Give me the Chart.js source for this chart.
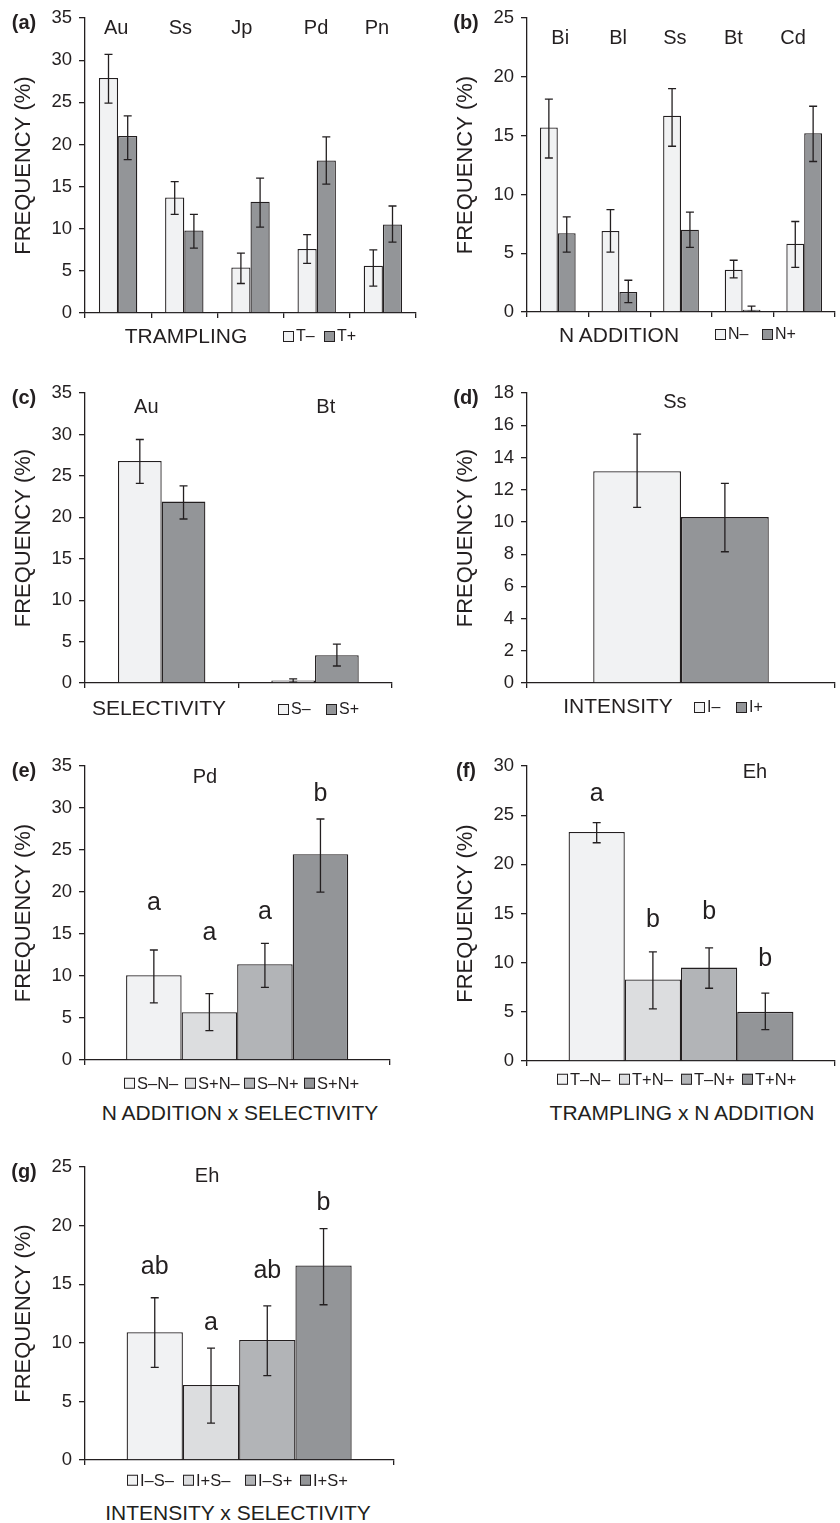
<!DOCTYPE html>
<html>
<head>
<meta charset="utf-8">
<script src="https://cdn.jsdelivr.net/npm/chart.js@4.4.1/dist/chart.umd.min.js"></script>
<style>
  body { margin: 0; background: #fff; width: 840px; height: 1523px; position: relative; overflow: hidden;
         font-family: "Liberation Sans", Arial, sans-serif; color: #231f20; }
  canvas { position: absolute; }
  .t { position: absolute; white-space: nowrap; line-height: 1; transform: translate(-50%, -50%); }
  .tag { font-weight: bold; font-size: 20px; }
  .xt { font-size: 21px; }
  .lg { position: absolute; white-space: nowrap; line-height: 1; transform: translateY(-50%); font-size: 16px; display: flex; align-items: center; }
  .lg i { display: inline-block; width: 9px; height: 9px; border: 1px solid #231f20; margin-right: 2px; }
  .lg.big { font-size: 16.5px; }
</style>
</head>
<body>
<script>
const ink = '#231f20';
const light = '#f1f2f3';
const dark = '#939598';
const shades = ['#f1f2f3', '#dcdddf', '#b2b4b7', '#939598'];

// (a) trampling
const trampSpecies = ['Au', 'Ss', 'Jp', 'Pd', 'Pn'];
const trampMinus   = [27.9, 13.7, 5.4, 7.6, 5.6];
const trampMinusHi = [30.7, 15.6, 7.1, 9.3, 7.5];
const trampMinusLo = [24.9, 11.7, 3.5, 5.9, 3.2];
const trampPlus    = [21.0, 9.8, 13.2, 18.1, 10.5];
const trampPlusHi  = [23.4, 11.7, 16.0, 20.9, 12.7];
const trampPlusLo  = [18.2, 7.7, 10.2, 15.3, 8.4];
const trampTicks   = [0, 35, 5];

// (b) N addition
const nSpecies  = ['Bi', 'Bl', 'Ss', 'Bt', 'Cd'];
const nMinus    = [15.7, 6.9, 16.7, 3.6, 5.8];
const nMinusHi  = [18.1, 8.7, 19.0, 4.4, 7.7];
const nMinusLo  = [13.1, 5.1, 14.1, 2.9, 3.8];
const nPlus     = [6.7, 1.7, 7.0, 0.2, 15.2];
const nPlusHi   = [8.1, 2.7, 8.5, 0.5, 17.5];
const nPlusLo   = [5.1, 0.8, 5.5, 0.05, 12.8];
const nTicks    = [0, 25, 5];

// (c) selectivity
const selSpecies = ['Au', 'Bt'];
const selMinus   = [26.8, 0.3];
const selMinusHi = [29.4, 0.5];
const selMinusLo = [24.1, 0.1];
const selPlus    = [21.9, 3.35];
const selPlusHi  = [23.8, 4.7];
const selPlusLo  = [19.8, 2.05];
const selTicks   = [0, 35, 5];

// (d) intensity
const intSpecies = ['Ss'];
const intMinus   = [13.15];
const intMinusHi = [15.45];
const intMinusLo = [10.9];
const intPlus    = [10.3];
const intPlusHi  = [12.4];
const intPlusLo  = [8.15];
const intTicks   = [0, 18, 2];

// (e) N addition x selectivity, Pd
const nsGroups  = ['S–N–', 'S+N–', 'S–N+', 'S+N+'];
const nsValues  = [10.1, 5.7, 11.4, 24.5];
const nsHi      = [13.1, 7.9, 13.9, 28.7];
const nsLo      = [6.8, 3.5, 8.65, 20.0];
const nsLetters = ['a', 'a', 'a', 'b'];
const nsLetterY = [18.7, 15.1, 17.6, 31.7];
const nsTicks   = [0, 35, 5];

// (f) trampling x N addition, Eh
const tnGroups  = ['T–N–', 'T+N–', 'T–N+', 'T+N+'];
const tnValues  = [23.3, 8.3, 9.5, 5.0];
const tnHi      = [24.25, 11.1, 11.5, 6.9];
const tnLo      = [22.2, 5.3, 7.4, 3.2];
const tnLetters = ['a', 'b', 'b', 'b'];
const tnLetterY = [27.2, 14.3, 15.1, 10.4];
const tnTicks   = [0, 30, 5];

// (g) intensity x selectivity, Eh
const isGroups  = ['I–S–', 'I+S–', 'I–S+', 'I+S+'];
const isValues  = [10.9, 6.4, 10.25, 16.6];
const isHi      = [13.85, 9.55, 13.15, 19.75];
const isLo      = [7.9, 3.15, 7.2, 13.25];
const isLetters = ['ab', 'a', 'ab', 'b'];
const isLetterY = [16.5, 11.7, 16.1, 21.9];
const isTicks   = [0, 25, 5];

Chart.defaults.font.family = '"Liberation Sans", Arial, sans-serif';
Chart.defaults.color = ink;

// error bars, significance letters and species names
const extras = {
  id: 'extras',
  afterDatasetsDraw(chart, args, opts) {
    const { ctx, scales: { x, y } } = chart;
    ctx.save();
    ctx.strokeStyle = ink;
    ctx.fillStyle = ink;
    ctx.lineWidth = 1.3;
    ctx.textAlign = 'center';
    ctx.textBaseline = 'middle';
    chart.data.datasets.forEach((ds, i) => {
      chart.getDatasetMeta(i).data.forEach((bar, j) => {
        const top = y.getPixelForValue(ds.errHi[j]);
        const bot = y.getPixelForValue(ds.errLo[j]);
        ctx.beginPath();
        ctx.moveTo(bar.x, top); ctx.lineTo(bar.x, bot);
        ctx.moveTo(bar.x - 4, top); ctx.lineTo(bar.x + 4, top);
        ctx.moveTo(bar.x - 4, bot); ctx.lineTo(bar.x + 4, bot);
        ctx.stroke();
        if (ds.letters) {
          ctx.font = '25px "Liberation Sans", Arial';
          ctx.fillText(ds.letters[j], bar.x, y.getPixelForValue(ds.letterY[j]));
        }
      });
    });
    ctx.font = '20px "Liberation Sans", Arial';
    (opts.notes || []).forEach(n => {
      ctx.fillText(n.text, x.getPixelForValue(n.at), y.getPixelForValue(n.y));
    });
    ctx.restore();
  }
};

function bar(label, data, hi, lo, color, pct) {
  return { label, data, errHi: hi, errLo: lo, backgroundColor: color, borderColor: ink,
           borderWidth: 1.3, categoryPercentage: pct, barPercentage: 1 };
}

// one dataset per treatment combination, all in a single category
function combo(groups, values, hi, lo, letters, letterY) {
  return groups.map((g, i) => Object.assign(
    bar(g, [values[i]], [hi[i]], [lo[i]], shades[i], 0.73),
    { letters: [letters[i]], letterY: [letterY[i]] }));
}

function text(cls, str, x, y) {
  const d = document.createElement('div');
  d.className = 't ' + cls;
  d.textContent = str;
  d.style.left = x + 'px';
  d.style.top = y + 'px';
  document.body.appendChild(d);
}

function makePanel(p) {
  const W = p.x0 === 0 ? 420 : 398;
  const H = p.bottom - p.top + 38;
  const cv = document.createElement('canvas');
  cv.width = W; cv.height = H;
  cv.style.left = p.x0 + 'px';
  cv.style.top = (p.top - 18) + 'px';
  document.body.appendChild(cv);

  new Chart(cv, {
    type: 'bar',
    data: { labels: p.labels, datasets: p.datasets },
    options: {
      responsive: false,
      animation: false,
      devicePixelRatio: 1,
      layout: { padding: { left: 0, top: 18, bottom: 10, right: p.x0 + W - p.right } },
      plugins: { legend: { display: false }, tooltip: { enabled: false }, extras: { notes: p.notes } },
      scales: {
        x: {
          offset: true,
          grid: { offset: true, drawOnChartArea: false, tickLength: 5, color: ink, lineWidth: 1.3 },
          border: { color: ink, width: 1.3 },
          ticks: { display: false },
          afterFit: s => { s.height = 10; }
        },
        y: {
          min: p.ticks[0], max: p.ticks[1],
          ticks: { stepSize: p.ticks[2], font: { size: 18.5 }, color: ink, padding: 7 },
          grid: { drawOnChartArea: false, tickLength: 6, color: ink, lineWidth: 1.3 },
          border: { color: ink, width: 1.3 },
          title: { display: true, text: 'FREQUENCY (%)', font: { size: 22 }, color: ink, padding: { top: 10.8, bottom: 0 } },
          afterFit: s => { s.width = 85; }
        }
      }
    },
    plugins: [extras]
  });

  text('tag', p.tag, p.tagX, p.top + 4);
  text('xt', p.xTitle, p.xTitleAt[0], p.xTitleAt[1]);
  p.datasets.forEach((ds, i) => {
    const d = document.createElement('div');
    d.className = 'lg' + (p.datasets.length > 2 ? ' big' : '');
    d.style.left = p.legendX[i] + 'px';
    d.style.top = p.legendY + 'px';
    const box = document.createElement('i');
    box.style.background = ds.backgroundColor;
    d.appendChild(box);
    d.appendChild(document.createTextNode(ds.label));
    document.body.appendChild(d);
  });
}

const notes = (names, at, y) => names.map((n, i) => ({ text: n, at: at[i], y }));

makePanel({
  tag: '(a)', tagX: 24, x0: 0, top: 18, bottom: 313, right: 416, ticks: trampTicks,
  labels: trampSpecies,
  datasets: [bar('T–', trampMinus, trampMinusHi, trampMinusLo, light, 0.58),
             bar('T+', trampPlus, trampPlusHi, trampPlusLo, dark, 0.58)],
  notes: notes(trampSpecies, [-0.03, 0.94, 1.87, 2.99, 3.91], 33.8),
  xTitle: 'TRAMPLING', xTitleAt: [186, 335], legendX: [283, 324], legendY: 336
});

makePanel({
  tag: '(b)', tagX: 466, x0: 442, top: 18.3, bottom: 312.7, right: 835, ticks: nTicks,
  labels: nSpecies,
  datasets: [bar('N–', nMinus, nMinusHi, nMinusLo, light, 0.58),
             bar('N+', nPlus, nPlusHi, nPlusLo, dark, 0.58)],
  notes: notes(nSpecies, [0.04, 0.98, 1.9, 2.85, 3.82], 23.3),
  xTitle: 'N ADDITION', xTitleAt: [619, 334], legendX: [715, 762], legendY: 334
});

makePanel({
  tag: '(c)', tagX: 24, x0: 0, top: 392.5, bottom: 682.7, right: 391.7, ticks: selTicks,
  labels: selSpecies,
  datasets: [bar('S–', selMinus, selMinusHi, selMinusLo, light, 0.57),
             bar('S+', selPlus, selPlusHi, selPlusLo, dark, 0.57)],
  notes: notes(selSpecies, [-0.1, 1.07], 33.3),
  xTitle: 'SELECTIVITY', xTitleAt: [159, 707], legendX: [278, 326], legendY: 709
});

makePanel({
  tag: '(d)', tagX: 466, x0: 442, top: 392.7, bottom: 682.7, right: 835, ticks: intTicks,
  labels: intSpecies,
  datasets: [bar('I–', intMinus, intMinusHi, intMinusLo, light, 0.57),
             bar('I+', intPlus, intPlusHi, intPlusLo, dark, 0.57)],
  notes: notes(intSpecies, [-0.02], 17.4),
  xTitle: 'INTENSITY', xTitleAt: [618, 705], legendX: [694, 736], legendY: 707
});

makePanel({
  tag: '(e)', tagX: 24, x0: 0, top: 766, bottom: 1060, right: 389.3, ticks: nsTicks,
  labels: [''],
  datasets: combo(nsGroups, nsValues, nsHi, nsLo, nsLetters, nsLetterY),
  notes: notes(['Pd'], [-0.106], 33.7),
  xTitle: 'N ADDITION x SELECTIVITY', xTitleAt: [240, 1112], legendX: [124, 185, 244, 304], legendY: 1083
});

makePanel({
  tag: '(f)', tagX: 466, x0: 442, top: 766, bottom: 1061.7, right: 835, ticks: tnTicks,
  labels: [''],
  datasets: combo(tnGroups, tnValues, tnHi, tnLo, tnLetters, tnLetterY),
  notes: notes(['Eh'], [0.24], 29.3),
  xTitle: 'TRAMPLING x N ADDITION', xTitleAt: [682, 1112], legendX: [557, 619, 681, 742], legendY: 1079
});

makePanel({
  tag: '(g)', tagX: 24, x0: 0, top: 1167.3, bottom: 1460.7, right: 393.3, ticks: isTicks,
  labels: [''],
  datasets: combo(isGroups, isValues, isHi, isLo, isLetters, isLetterY),
  notes: notes(['Eh'], [-0.104], 24.2),
  xTitle: 'INTENSITY x SELECTIVITY', xTitleAt: [238, 1512], legendX: [127, 183, 245, 300], legendY: 1480
});
</script>
</body>
</html>
